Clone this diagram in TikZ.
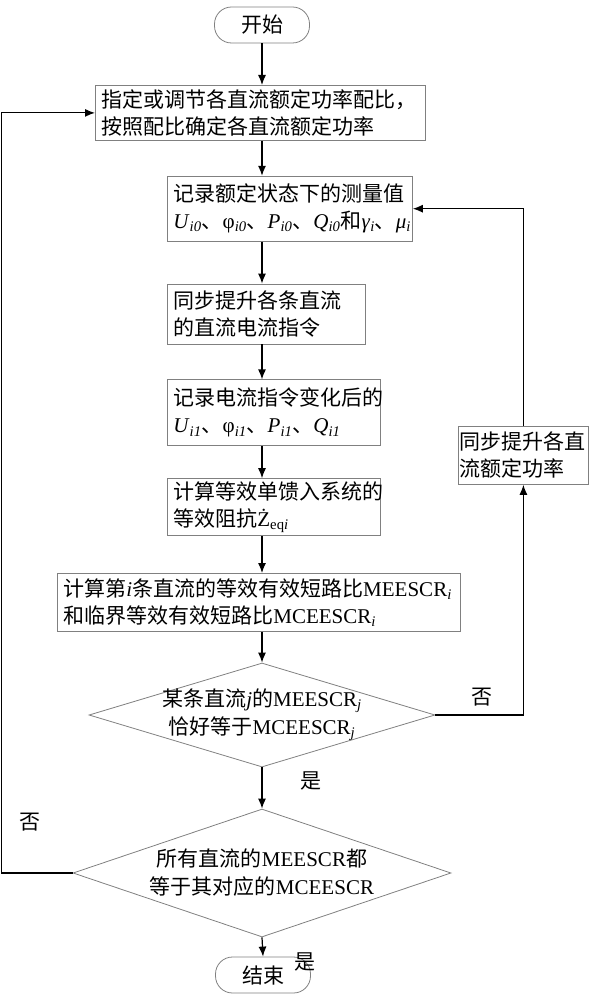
\documentclass[tikz,border=0pt]{standalone}
\usepackage{fontspec}
\setmainfont{Liberation Serif}
\newfontfamily\cjk{Noto Sans CJK SC}
\usepackage{tikz}
\usetikzlibrary{arrows.meta,positioning,shapes.geometric}

\newcommand{\la}[1]{{\rmfamily #1}}
\newcommand{\var}[2]{\la{\textit{#1}\textsubscript{\textit{#2}}}}

\begin{document}
\begin{tikzpicture}[
    x=1pt, y=1pt,
    >={Latex[length=10pt,width=8pt]},
    box/.style={rectangle, draw=gray, line width=0.8pt, align=left, inner xsep=6pt, inner ysep=2pt, font=\cjk\fontsize{21}{27}\selectfont},
    term/.style={rectangle, rounded corners=17pt, draw=gray, line width=0.8pt, minimum width=95pt, minimum height=36pt, font=\cjk\fontsize{21}{27}\selectfont},
    decision/.style={diamond, draw=gray, line width=0.8pt, shape aspect=3.2, inner sep=-4pt, align=center, font=\cjk\fontsize{21}{28}\selectfont},
    arrow/.style={->, line width=1.2pt},
    answer/.style={font=\cjk\fontsize{21}{27}\selectfont}
]
\useasboundingbox (0,0) rectangle (597,-1000);

% Start and first setting
\node[term] (start) at (262,-25) {开始};
\node[box, anchor=north west, text width=318pt, minimum height=55pt] (setratio) at (95,-85) {指定或调节各直流额定功率配比，\\按照配比确定各直流额定功率};

% Measurement chain
\node[box, below=35pt of setratio.south west, xshift=72pt, anchor=north west, text width=233pt, minimum height=65pt] (rec0) {记录额定状态下的测量值\\\var{U}{i0}、\la{φ\textsubscript{\textit{i0}}}、\var{P}{i0}、\var{Q}{i0}和\var{γ}{i}、\var{μ}{i}};
\node[box, below=42pt of rec0.south west, anchor=north west, text width=186pt, minimum height=60pt] (raise) {同步提升各条直流\\的直流电流指令};
\node[box, below=35pt of raise.south west, anchor=north west, text width=201pt, minimum height=66pt] (rec1) {记录电流指令变化后的\\\var{U}{i1}、\la{φ\textsubscript{\textit{i1}}}、\var{P}{i1}、\var{Q}{i1}};
\node[box, below=32pt of rec1.south west, anchor=north west, text width=201pt, minimum height=57pt] (zeq) {计算等效单馈入系统的\\等效阻抗\la{Ż\textsubscript{eq\textit{i}}}};
\node[box, below=37pt of zeq.south west, xshift=-110pt, anchor=north west, text width=391pt, minimum height=58pt] (ratio) {计算第\la{\textit{i}}条直流的等效有效短路比\la{MEESCR\textsubscript{\textit{i}}}\\和临界等效有效短路比\la{MCEESCR\textsubscript{\textit{i}}}};

% Decisions
\node[decision, minimum width=346pt, minimum height=104pt] (onehit) at (262,-715) {某条直流\la{\textit{j}}的\la{MEESCR\textsubscript{\textit{j}}}\\恰好等于\la{MCEESCR\textsubscript{\textit{j}}}};
\node[decision, minimum width=378pt, minimum height=128pt] (allhit) at (262,-873) {所有直流的\la{MEESCR}都\\等于其对应的\la{MCEESCR}};
\node[term] (stop) at (263,-975) {结束};

% Side step
\node[box, anchor=north west, inner xsep=1pt, text width=128pt, minimum height=58pt] (step up) at (458,-426) {同步提升各直\\流额定功率};

% Main flow
\draw[arrow] (start.south) -- (start.south |- setratio.north);
\draw[arrow] (setratio.south -| start.south) -- (rec0.north -| start.south);
\draw[arrow] (rec0.south -| start.south) -- (raise.north -| start.south);
\draw[arrow] (raise.south -| start.south) -- (rec1.north -| start.south);
\draw[arrow] (rec1.south -| start.south) -- (zeq.north -| start.south);
\draw[arrow] (zeq.south -| start.south) -- (ratio.north -| start.south);
\draw[arrow] (ratio.south -| start.south) -- (onehit.north);
\draw[arrow] (onehit.south) -- (allhit.north);
\draw[arrow] (allhit.south) -- (stop.north);

% Loops
\draw[arrow] (onehit.east) -| (step up.south);
\draw[arrow] (step up.north) |- (rec0.east);
\draw[arrow] (allhit.west) -- ++(-71,0) |- (setratio.west);

% Branch labels
\node[answer] (no1) at (482,-697) {否};
\node[answer] (yes1) at (311,-781) {是};
\node[answer] (no2) at (30,-822) {否};
\node[answer] (yes2) at (305,-962) {是};

\end{tikzpicture}
\end{document}
